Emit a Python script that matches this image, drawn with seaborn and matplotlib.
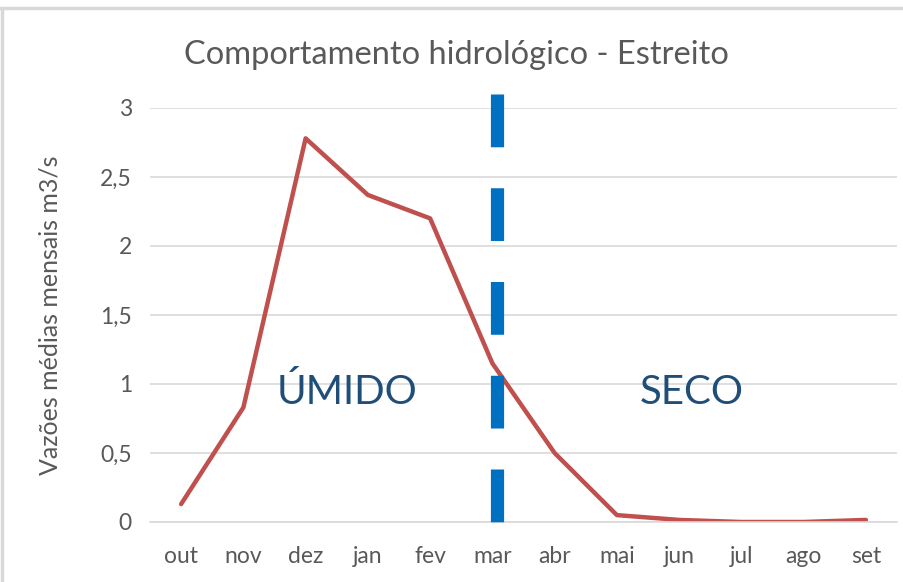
import numpy as np
import pandas as pd
import matplotlib.pyplot as plt
import seaborn as sns
from matplotlib.ticker import FuncFormatter
from matplotlib.lines import Line2D

meses = ["out", "nov", "dez", "jan", "fev", "mar", "abr", "mai", "jun", "jul", "ago", "set"]
vazoes = [0.13, 0.83, 2.78, 2.37, 2.20, 1.15, 0.50, 0.05, 0.015, 0.0, 0.0, 0.015]
yticks = [0, 0.5, 1, 1.5, 2, 2.5, 3]
divisa = 5.07  # posição da linha tracejada (entre mar e abr, perto de mar)

sns.set_theme(style="white")
plt.rcParams['font.family'] = ['Lato', 'DejaVu Sans']
plt.rcParams['lines.scale_dashes'] = False
cinza = "#595959"

df = pd.DataFrame({"mes": meses, "vazao": vazoes})

fig = plt.figure(figsize=(9.04, 5.82), dpi=100)
ax = fig.add_axes([150/904, 1-522/582, (897-150)/904, (522-108)/582])

sns.lineplot(data=df, x="mes", y="vazao", sort=False, color="#C0504D", linewidth=3.2, ax=ax)

ax.plot([divisa, divisa], [3.10, 0], color="#0070C0", linewidth=9.5,
        dashes=(38, 29.5), solid_capstyle="butt", clip_on=False, zorder=3)

ax.text(2.66, 0.94, "ÚMIDO", color="#1F4E79", fontsize=29, ha="center", va="center")
ax.text(8.2, 0.94, "SECO", color="#1F4E79", fontsize=29, ha="center", va="center")

ax.set_xlim(-0.5, 11.5)
ax.set_ylim(0, 3)
ax.set_yticks(yticks)
ax.yaxis.set_major_formatter(FuncFormatter(lambda v, p: ("%g" % v).replace(".", ",")))
ax.grid(axis="y", color="#D9D9D9", linewidth=1.2)
ax.set_axisbelow(True)
for s in ["top", "right", "left"]:
    ax.spines[s].set_visible(False)
ax.spines["bottom"].set_color("#D9D9D9")
ax.spines["bottom"].set_linewidth(1.2)
ax.tick_params(axis="both", length=0, labelsize=16.5, labelcolor=cinza)
ax.tick_params(axis="y", pad=13)
ax.tick_params(axis="x", pad=17)
ax.set_xlabel("")
ax.set_ylabel("Vazões médias mensais m3/s", fontsize=18, color=cinza, labelpad=28)

fig.text(456/904, 1-55/582, "Comportamento hidrológico - Estreito", fontsize=23.5,
         color=cinza, ha="center", va="center")

fig.add_artist(Line2D([0, 1], [1-8/582, 1-8/582], color="#D9D9D9", linewidth=2.5))
fig.add_artist(Line2D([2/904, 2/904], [0, 1-8/582], color="#D9D9D9", linewidth=2.5))

fig.savefig("out.png", dpi=100, facecolor="white")
